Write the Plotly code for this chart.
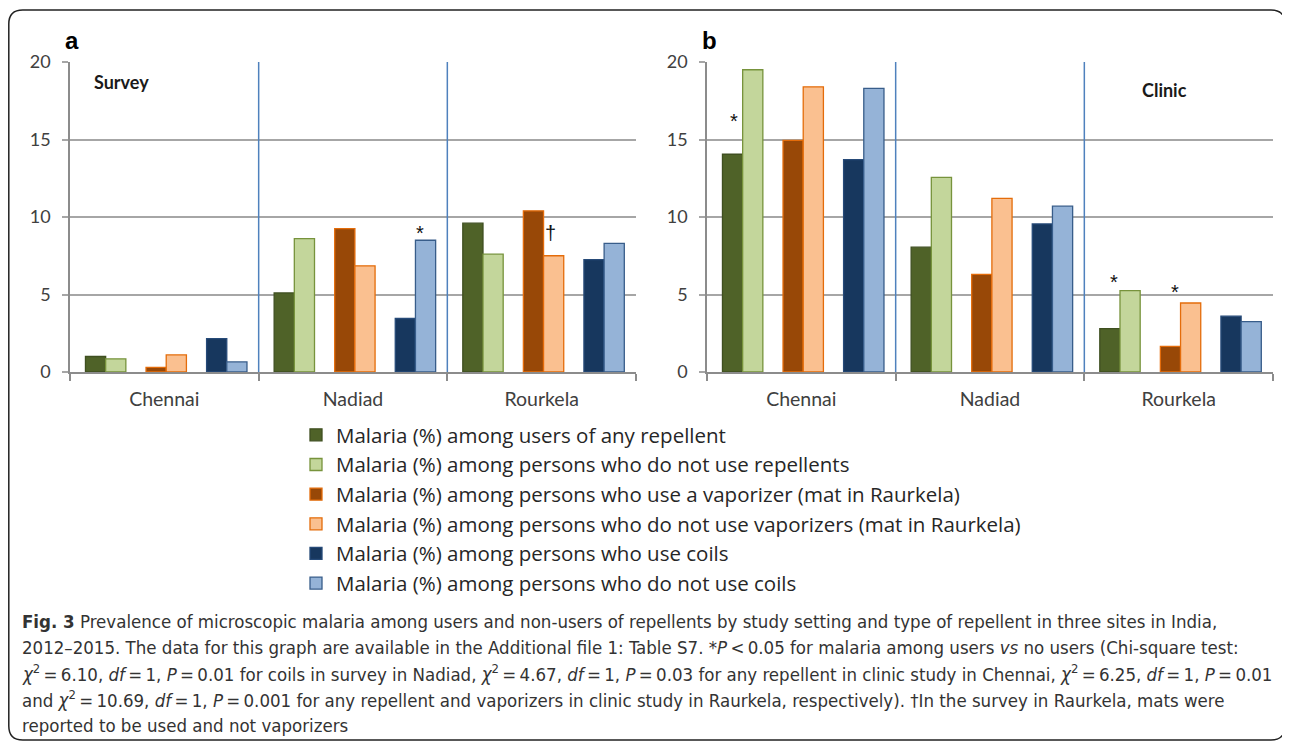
import plotly.graph_objects as go

# The page places the figure 8 px from the top-left corner (body margin),
# so the figure is sized to end at the window edge and all layout positions
# below are given in window pixels and converted.
OFF = 8
W, H = 1290 - OFF, 747 - OFF

sites = ["Chennai", "Nadiad", "Rourkela"]

series_names = [
    "Malaria (%) among users of any repellent",
    "Malaria (%) among persons who do not use repellents",
    "Malaria (%) among persons who use a vaporizer (mat in Raurkela)",
    "Malaria (%) among persons who do not use vaporizers (mat in Raurkela)",
    "Malaria (%) among persons who use coils",
    "Malaria (%) among persons who do not use coils",
]

# Panel a: Survey
survey_any_user = [1.0, 5.1, 9.6]
survey_any_non = [0.85, 8.6, 7.6]
survey_vap_user = [0.3, 9.25, 10.4]
survey_vap_non = [1.1, 6.85, 7.5]
survey_coil_user = [2.15, 3.45, 7.25]
survey_coil_non = [0.65, 8.5, 8.3]

# Panel b: Clinic
clinic_any_user = [14.05, 8.05, 2.8]
clinic_any_non = [19.5, 12.55, 5.25]
clinic_vap_user = [14.95, 6.3, 1.65]
clinic_vap_non = [18.4, 11.2, 4.45]
clinic_coil_user = [13.7, 9.55, 3.6]
clinic_coil_non = [18.3, 10.7, 3.25]

y_ticks = [0, 5, 10, 15, 20]

survey = [survey_any_user, survey_any_non, survey_vap_user,
          survey_vap_non, survey_coil_user, survey_coil_non]
clinic = [clinic_any_user, clinic_any_non, clinic_vap_user,
          clinic_vap_non, clinic_coil_user, clinic_coil_non]

fills = ["#4F6228", "#C3D69B", "#984807", "#FAC090", "#17375E", "#95B3D7"]
edges = ["#3F4F20", "#77933C", "#E46C0A", "#E46C0A", "#264A78", "#385D8A"]

bw = 0.107
slots = [0, 1, 3, 4, 6, 7]


def px(x):
    return (x - OFF) / W


def py(y):
    return 1 - (y - OFF) / H


fig = go.Figure()
for panel, data in enumerate([survey, clinic]):
    xa = "x" if panel == 0 else "x2"
    ya = "y" if panel == 0 else "y2"
    for i, vals in enumerate(data):
        fig.add_trace(go.Bar(
            x=sites, y=vals, name=series_names[i],
            xaxis=xa, yaxis=ya,
            width=bw, offset=-0.418 + slots[i] * bw,
            marker=dict(color=fills[i], line=dict(color=edges[i], width=1.3)),
            showlegend=(panel == 0),
        ))

ydom = [py(372), py(62)]
xdom_a = [px(70), px(636)]
xdom_b = [px(707), px(1273)]

ytickfont = dict(family="Lato, Carlito, sans-serif", size=18, color="#404040")
xtickfont = dict(family="Lato, Carlito, sans-serif", size=19.5, color="#404040")
xcommon = dict(type="category", range=[-0.5, 2.5], showgrid=False, zeroline=False,
               showline=True, linecolor="#8c8c8c", linewidth=1.5,
               tickson="boundaries", ticks="outside", ticklen=7, tickwidth=1.5,
               tickcolor="#8c8c8c", tickfont=xtickfont, ticklabelstandoff=9)
ycommon = dict(range=[0, 20], tickvals=y_ticks, showgrid=True, gridcolor="#a6a6a6",
               gridwidth=1.5, zeroline=False, showline=True, linecolor="#8c8c8c",
               linewidth=1.5, ticks="outside", ticklen=6, tickwidth=1.5,
               tickcolor="#a6a6a6", tickfont=ytickfont, ticklabelstandoff=8)

fig.update_layout(
    width=W, height=H,
    margin=dict(l=0, r=0, t=0, b=0, pad=0, autoexpand=False),
    paper_bgcolor="white", plot_bgcolor="white",
    barmode="overlay",
    xaxis=dict(domain=xdom_a, anchor="y", **xcommon),
    yaxis=dict(domain=ydom, anchor="x", **ycommon),
    xaxis2=dict(domain=xdom_b, anchor="y2", **xcommon),
    yaxis2=dict(domain=ydom, anchor="x2", **ycommon),
    legend=dict(x=px(296), y=py(415), xanchor="left", yanchor="top",
                font=dict(family="Open Sans, Lato, sans-serif", size=20.5, color="#262626"),
                bgcolor="rgba(0,0,0,0)", tracegroupgap=0, itemwidth=30),
    showlegend=True,
)

shapes = []
for xr, yr in [("x", "y"), ("x2", "y2")]:
    for xv in [0.5, 1.5]:
        shapes.append(dict(type="line", xref=xr, yref=yr + " domain", x0=xv, x1=xv,
                           y0=0, y1=1, line=dict(color="#4F81BD", width=1.5)))

x0, x1 = px(8.8), px(1285)
y0, y1 = py(740), py(10)
rx, ry = 14 / W, 14 / H
path = (f"M {x0+rx},{y1} L {x1-rx},{y1} Q {x1},{y1} {x1},{y1-ry} "
        f"L {x1},{y0+ry} Q {x1},{y0} {x1-rx},{y0} L {x0+rx},{y0} "
        f"Q {x0},{y0} {x0},{y0+ry} L {x0},{y1-ry} Q {x0},{y1} {x0+rx},{y1} Z")
shapes.append(dict(type="path", xref="paper", yref="paper", path=path,
                   line=dict(color="#222222", width=1.5)))
fig.update_layout(shapes=shapes)

ann = []


def paper_text(text, x, y, size, family="Arial", color="#000", xanchor="center"):
    ann.append(dict(text=text, x=px(x), y=py(y), xref="paper", yref="paper",
                    showarrow=False, xanchor=xanchor, yanchor="middle",
                    font=dict(family=family, size=size, color=color)))


paper_text("<b>a</b>", 72, 40, 24)
paper_text("<b>b</b>", 709, 40, 24)
paper_text("<b>Survey</b>", 121, 82, 18, family="Lato, sans-serif", color="#1a1a1a")
paper_text("<b>Clinic</b>", 1164, 90, 18, family="Lato, sans-serif", color="#1a1a1a")

marks = [("x", "y", 1.356, 9.0, "*"), ("x", "y", 2.046, 9.0, "†"),
         ("x2", "y2", -0.356, 16.2, "*"), ("x2", "y2", 1.656, 5.8, "*"),
         ("x2", "y2", 1.978, 5.15, "*")]
for xr, yr, xv, yv, t in marks:
    ann.append(dict(text=t, x=xv, y=yv, xref=xr, yref=yr, showarrow=False,
                    xanchor="center", yanchor="middle",
                    font=dict(family="Arial", size=20, color="#111")))

ts = "\u2009"
EQ = ts + "=" + ts
chi = "<i>χ</i><sup>2</sup>"
cap_font = "DejaVu Sans Condensed, Liberation Sans Narrow, Arial Narrow, sans-serif"
caption = [
    "<b>Fig. 3</b> Prevalence of microscopic malaria among users and non-users of repellents by study setting and type of repellent in three sites in India,",
    f"2012–2015. The data for this graph are available in the Additional file 1: Table S7. *<i>P</i>{ts}&lt;{ts}0.05 for malaria among users <i>vs</i> no users (Chi-square test:",
    f"{chi}{EQ}6.10, <i>df</i>{EQ}1, <i>P</i>{EQ}0.01 for coils in survey in Nadiad, {chi}{EQ}4.67, <i>df</i>{EQ}1, <i>P</i>{EQ}0.03 for any repellent in clinic study in Chennai, {chi}{EQ}6.25, <i>df</i>{EQ}1, <i>P</i>{EQ}0.01",
    f"and {chi}{EQ}10.69, <i>df</i>{EQ}1, <i>P</i>{EQ}0.001 for any repellent and vaporizers in clinic study in Raurkela, respectively). †In the survey in Raurkela, mats were",
    "reported to be used and not vaporizers",
]
for k, line in enumerate(caption):
    paper_text(line, 20, 621 + 26 * k, 18.5, family=cap_font, color="#333333", xanchor="left")

fig.update_layout(annotations=ann)

fig.write_html("out.html")
